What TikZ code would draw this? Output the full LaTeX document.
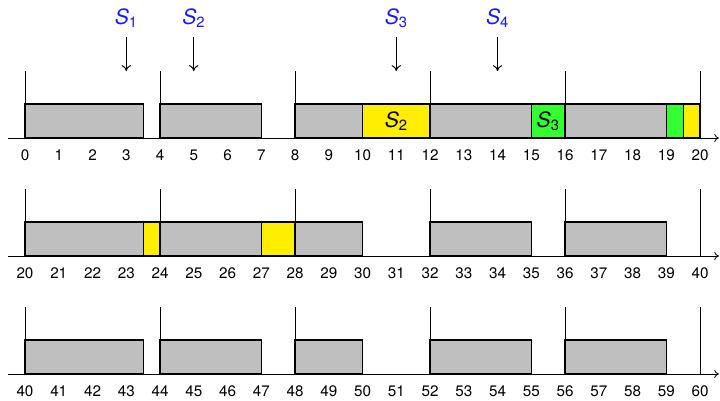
\documentclass[tikz,border=0pt]{standalone}
\usepackage{fontspec}
\setmainfont{TeX Gyre Heros}
\usetikzlibrary{arrows.meta}
\definecolor{jobgray}{RGB}{191,191,191}
\definecolor{syellow}{RGB}{255,238,0}
\definecolor{sgreen}{RGB}{51,255,51}
\definecolor{sblue}{RGB}{25,25,245}
\begin{document}
\begin{tikzpicture}[x=1.0125cm,y=-0.03cm,
  jobbox/.style={draw=black,line width=0.9pt},
  deadline/.style={draw=black,line width=0.8pt},
  axisline/.style={draw=black,line width=0.7pt,-{To[length=4pt,width=7pt]}},
  ticklabel/.style={inner sep=0pt,font=\fontsize{13}{15}\selectfont},
  slabel/.style={inner sep=0pt,text=sblue,font=\fontsize{18}{20}\selectfont},
  boxlabel/.style={inner sep=0pt,font=\fontsize{18}{20}\selectfont},
  sarrow/.style={draw=black,line width=0.8pt,-{To[length=5pt,width=8pt]}}]
\useasboundingbox (-0.7407,0) rectangle (20.5926,401);

% row 1 boxes
\foreach \a/\b/\c in {0/3.5/jobgray,4/7/jobgray,8/10/jobgray,10/12/syellow,12/15/jobgray,15/16/sgreen,16/19/jobgray,19/19.5/sgreen,19.5/20/syellow}
  \draw[jobbox,fill=\c] (\a,138) rectangle (\b,104);
% row 2 boxes
\foreach \a/\b/\c in {0/3.5/jobgray,3.5/4/syellow,4/7/jobgray,7/8/syellow,8/10/jobgray,12/15/jobgray,16/19/jobgray}
  \draw[jobbox,fill=\c] (\a,256) rectangle (\b,222);
% row 3 boxes
\foreach \a/\b/\c in {0/3.5/jobgray,4/7/jobgray,8/10/jobgray,12/15/jobgray,16/19/jobgray}
  \draw[jobbox,fill=\c] (\a,374) rectangle (\b,340);

% axes, deadlines and tick labels
\foreach \r in {0,1,2} {
  \pgfmathsetmacro\yb{138+118*\r}
  \pgfmathsetmacro\yt{\yb-67}
  \pgfmathsetmacro\yl{\yb+17}
  \coordinate (ax\r s) at (-0.5,\yb);
  \coordinate (ax\r e) at (20.56,\yb);
  \draw[axisline] (ax\r s) -- (ax\r e);
  \foreach \k in {0,4,...,20} {
    \coordinate (d\r-\k b) at (\k,\yb);
    \coordinate (d\r-\k t) at (\k,\yt);
    \draw[deadline] (d\r-\k b) -- (d\r-\k t);
  }
  \foreach \k in {0,...,20} {
    \pgfmathtruncatemacro\v{20*\r+\k}
    \node[ticklabel] (t\r-\k) at (\k,\yl) {\v};
  }
}

% labels inside boxes
\node[boxlabel] (in2) at (11,121) {\textit{S}\textsubscript{2}};
\node[boxlabel] (in3) at (15.5,121) {\textit{S}\textsubscript{3}};

% release labels and arrows
\foreach \n/\t in {1/3,2/5,3/11,4/14} {
  \node[slabel] (s\n) at (\t,18) {\textit{S}\textsubscript{\n}};
  \coordinate (s\n a) at (\t,37);
  \coordinate (s\n b) at (\t,71);
  \draw[sarrow] (s\n a) -- (s\n b);
}
\end{tikzpicture}
\end{document}
